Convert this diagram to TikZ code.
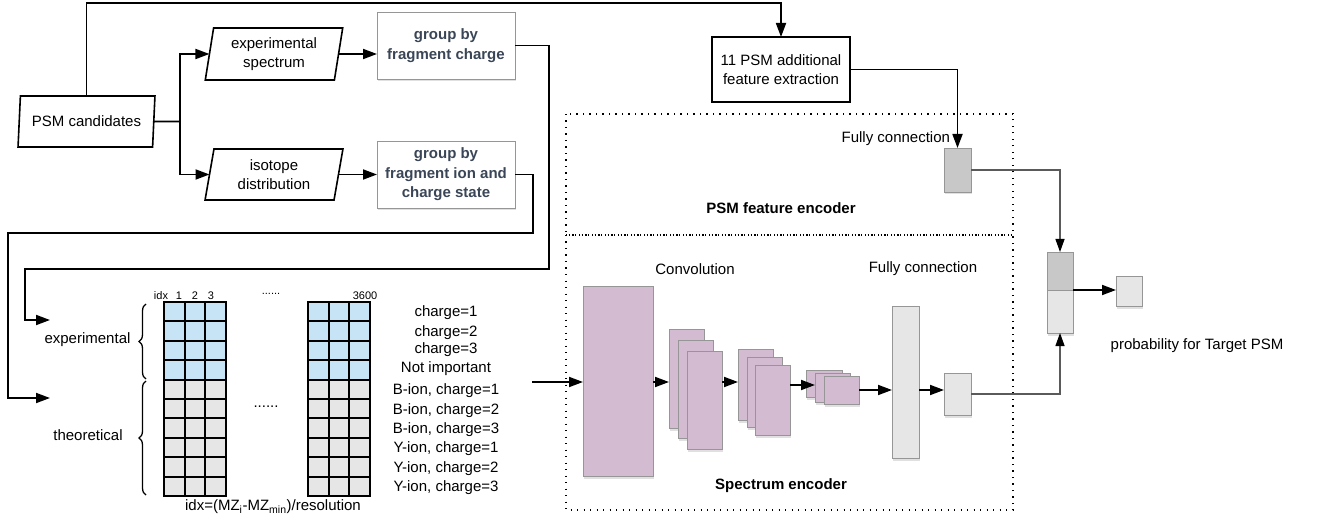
\documentclass[tikz,border=0pt]{standalone}
\usepackage{fontspec}
\setmainfont{Liberation Sans}
\usetikzlibrary{arrows.meta,shapes.geometric,decorations.pathreplacing,shadows,calc}
\definecolor{lilac}{RGB}{211,188,210}
\definecolor{lgray}{RGB}{230,230,230}
\definecolor{mgray}{RGB}{200,200,200}
\definecolor{bordergray}{RGB}{150,150,150}
\definecolor{cellblue}{RGB}{198,228,246}
\definecolor{slate}{RGB}{58,70,87}
\definecolor{linegray}{RGB}{90,90,90}
\begin{document}
\begin{tikzpicture}[x=1pt,y=-1pt,
  every node/.style={font=\fontsize{15}{19.5}\selectfont, inner sep=0pt, outer sep=0pt},
  para/.style={trapezium, trapezium left angle=80, trapezium right angle=100, trapezium stretches=true,
    draw, line width=1.6pt, align=center, minimum width=137pt, minimum height=51pt},
  shad/.style={drop shadow={opacity=0.12, shadow xshift=1pt, shadow yshift=-2.5pt, fill=black}},
  gbox/.style={draw=bordergray, line width=0.9pt, fill=white, shad, align=center,
    minimum width=138pt, minimum height=67pt, font=\fontsize{15}{19.5}\selectfont\bfseries, text=slate},
  fbox/.style={draw, line width=1.8pt, fill=white, align=center, minimum width=138pt, minimum height=65pt},
  lil/.style={draw=bordergray, line width=0.8pt, fill=lilac, shad, anchor=north west},
  lg/.style={draw=bordergray, line width=0.8pt, fill=lgray, shad, anchor=north west},
  mg/.style={draw=bordergray, line width=0.8pt, fill=mgray, shad, anchor=north west},
  conn/.style={line width=1.8pt},
  arr/.style={line width=1.8pt, -{Triangle[length=14pt,width=10pt]}},
  garr/.style={line width=1.2pt, draw=linegray, -{Triangle[length=13pt,width=9pt,color=black]}},
  gridline/.style={line width=1.9pt},
  dotbox/.style={line width=1.4pt, dash pattern=on 1.4pt off 5.1pt},
  lab/.style={font=\fontsize{15}{19.5}\selectfont},
  small/.style={font=\fontsize{11}{13}\selectfont},
  bold/.style={font=\fontsize{15}{19.5}\selectfont\bfseries}
]
\useasboundingbox (0,0) rectangle (1319,521);

% ---------- flow chart ----------
\node[para] (psm) at (86.5,121.5) {PSM candidates};
\node[para, minimum width=138pt, minimum height=52pt] (exp) at (274,54) {experimental\\spectrum};
\node[para, minimum width=138pt, minimum height=51pt] (iso) at (274,174.5) {isotope\\distribution};
\node[gbox] (g1) at (446,45.5) {group by\\fragment charge};
\node[gbox] (g2) at (446,174.5) {group by\\fragment ion and\\charge state};
\node[fbox] (feat) at (781,69.5) {11 PSM additional\\feature extraction};

\coordinate (j) at (180,121.5);
\coordinate (topR) at (781,3);
\draw[conn] (psm.east) -- (j);
\draw[arr] (j) |- (exp.west);
\draw[arr] (j) |- (iso.west);
\draw[arr] (psm.north) |- (topR) -- (feat.north);
\draw[arr] (exp.east) -- (exp.east -| g1.west);
\draw[arr] (iso.east) -- (iso.east -| g2.west);

\coordinate (c1a) at (549,269);
\coordinate (c1b) at (25,269);
\coordinate (expin) at (50,320);
\coordinate (c2a) at (533,233);
\coordinate (c2b) at (8,233);
\coordinate (theoin) at (50,398);
\draw[arr] (g1.east) -| (c1a) -- (c1b) |- (expin);
\draw[arr] (g2.east) -| (c2a) -- (c2b) |- (theoin);

% ---------- matrix ----------
\foreach \bx in {164,308}{
  \fill[cellblue] (\bx,302) rectangle (\bx+61.8,379.6);
  \fill[lgray] (\bx,379.6) rectangle (\bx+61.8,496);
  \foreach \i in {0,...,3} \draw[gridline] (\bx+\i*20.6,302) -- (\bx+\i*20.6,496);
  \foreach \j in {0,...,10} \draw[gridline] (\bx-0.95,302+\j*19.4) -- (\bx+62.75,302+\j*19.4);
}
\node[small] (idx) at (161,296) {idx};
\node[small] (i1) at (179,296) {1};
\node[small] (i2) at (195,296) {2};
\node[small] (i3) at (211,296) {3};
\node[small] (idots) at (271,294) {......};
\node[small] (i3600) at (365,296) {3600};
\node[lab] (mdots) at (266,407) {......};

\node[lab] (explab) at (87.5,340) {experimental};
\node[lab] (theolab) at (88,435) {theoretical};
\draw[line width=1.3pt, decorate, decoration={brace, amplitude=7pt}] (146,379) -- (146,304);
\draw[line width=1.3pt, decorate, decoration={brace, amplitude=7pt}] (146,495) -- (146,381);

\node[lab] (r1) at (446,313) {charge=1};
\node[lab] (r2) at (446,333) {charge=2};
\node[lab] (r3) at (446,350) {charge=3};
\node[lab] (r4) at (446,369) {Not important};
\node[lab] (r5) at (446,391) {B-ion, charge=1};
\node[lab] (r6) at (446,411) {B-ion, charge=2};
\node[lab] (r7) at (446,430) {B-ion, charge=3};
\node[lab] (r8) at (446,449) {Y-ion, charge=1};
\node[lab] (r9) at (446,469) {Y-ion, charge=2};
\node[lab] (r10) at (446,488) {Y-ion, charge=3};
\node[lab] (formula) at (273,507) {idx=(MZ\textsubscript{i}-MZ\textsubscript{min})/resolution};

% ---------- encoders ----------
\draw[dotbox] (566,114) rectangle (1013,235);
\draw[dotbox] (566,235) rectangle (1013,510);
\node[bold] (psmenc) at (781,208) {PSM feature encoder};
\node[bold] (specenc) at (781,486) {Spectrum encoder};
\node[lab] (convlab) at (695,269) {Convolution};
\node[lab] (fclab) at (923,269) {Fully connection};
\node[lab, anchor=east] (fclab2) at (950,139) {Fully connection};
\node[lab] (problab) at (1197,346) {probability for Target PSM};

\node[lil, minimum width=70pt, minimum height=190pt] (conv1) at (583,286) {};
\node[lil, minimum width=35pt, minimum height=99pt] (s1a) at (669,329) {};
\node[lil, minimum width=35pt, minimum height=98pt] (s1b) at (678,340) {};
\node[lil, minimum width=35pt, minimum height=98pt] (s1c) at (687,351) {};
\node[lil, minimum width=35pt, minimum height=71pt] (s2a) at (738,349) {};
\node[lil, minimum width=35pt, minimum height=70pt] (s2b) at (747,357) {};
\node[lil, minimum width=35pt, minimum height=70pt] (s2c) at (755,365) {};
\node[lil, minimum width=36pt, minimum height=27pt] (s3a) at (806,370) {};
\node[lil, minimum width=35pt, minimum height=29pt] (s3b) at (815,373) {};
\node[lil, minimum width=35pt, minimum height=28pt] (s3c) at (824,376) {};
\node[lg, minimum width=27pt, minimum height=152pt] (fc1) at (892,306) {};
\node[lg, minimum width=27pt, minimum height=42pt] (fc2) at (944,373) {};
\node[mg, minimum width=27pt, minimum height=44pt] (fcP) at (944,148) {};
\node[mg, minimum width=26pt, minimum height=38pt] (catA) at (1047,252) {};
\node[lg, minimum width=26pt, minimum height=43pt] (catB) at (1047,290) {};
\node[lg, minimum width=26pt, minimum height=30pt] (out) at (1116,276) {};

\coordinate (specin) at (532,382);
\coordinate (y3) at (0,385);
\coordinate (y4) at (0,390);
\draw[arr] (specin) -- (specin -| conv1.west);
\draw[arr] (conv1.east |- specin) -- (specin -| s1a.west);
\draw[arr] (s1c.east |- specin) -- (specin -| s2a.west);
\draw[arr] (s2c.east |- y3) -- (y3 -| s3b.west);
\draw[arr] (s3c.east |- y4) -- (y4 -| fc1.west);
\draw[arr] (fc1.east |- y4) -- (y4 -| fc2.west);
\draw[arr] (feat.east) -| (fcP.north);
\draw[garr] (fcP.east) -| (catA.north);
\draw[garr] (fc2.east) -| (catB.south);
\draw[arr] (catA.south east) -- (catA.south east -| out.west);
\end{tikzpicture}
\end{document}
